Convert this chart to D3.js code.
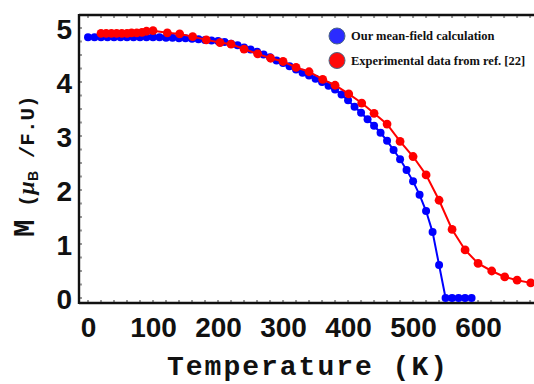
<!DOCTYPE html>
<html>
<head>
<meta charset="utf-8">
<script src="https://cdn.jsdelivr.net/npm/d3@7"></script>
<style>
  html, body { margin: 0; padding: 0; background: #fff; }
  svg { display: block; }
</style>
</head>
<body>
<svg id="chart" width="534" height="384"></svg>
<script>
// Mean-field magnetization (blue), temperatures in K and M in μB per formula unit
const calcT = [0,10,20,30,40,50,60,70,80,90,100,110,120,130,140,150,160,170,180,190,
  200,210,220,230,240,250,260,270,280,290,300,310,320,330,340,350,360,370,380,390,
  400,410,420,430,440,450,460,470,480,490,500,510,520,530,540,550,560,570,580,590];
const calcM = [4.83,4.83,4.83,4.83,4.83,4.83,4.83,4.83,4.83,4.83,4.83,4.83,4.82,4.82,4.81,4.81,4.80,4.79,4.78,4.77,
  4.76,4.74,4.71,4.68,4.64,4.60,4.56,4.51,4.46,4.40,4.35,4.29,4.23,4.17,4.12,4.06,4.00,3.93,3.86,3.77,
  3.66,3.54,3.43,3.31,3.19,3.06,2.91,2.74,2.57,2.37,2.16,1.91,1.61,1.22,0.61,0,0,0,0,0];

// Measured magnetization (red)
const expT = [20,28,36,44,52,60,67,75,83,90,100,122,141,161,182,203,220,240,261,281,
  300,320,340,361,380,401,421,440,460,480,500,520,540,560,580,600,621,641,660,681,700];
const expM = [4.90,4.90,4.90,4.90,4.90,4.90,4.91,4.91,4.92,4.94,4.95,4.91,4.89,4.84,4.78,4.73,4.70,4.61,4.52,4.44,
  4.38,4.27,4.19,4.05,3.94,3.78,3.61,3.42,3.22,2.90,2.62,2.28,1.81,1.27,0.89,0.64,0.50,0.39,0.33,0.28,0.25];

const xTicks = [0,100,200,300,400,500,600];
const yTicks = [0,1,2,3,4,5];
const legendLabels = ["Our mean-field calculation", "Experimental data from ref. [22]"];
const seriesColors = ["#0000ff", "#ff0000"];

const svg = d3.select("#chart");
const L = 79, R = 534, T = 15, B = 303;

const x = d3.scaleLinear().domain([-13.85, 686]).range([L, R]);
const y = d3.scaleLinear().domain([-0.0926, 5.2407]).range([B, T]);

svg.append("rect").attr("width", 534).attr("height", 384).attr("fill", "#fff");

svg.append("defs").append("clipPath").attr("id", "plot")
  .append("rect").attr("x", L).attr("y", T - 6).attr("width", R - L + 10).attr("height", B - T + 6);

// small gray minor ticks just inside the frame
const minorX = d3.range(0, 700, 20);
const minorY = d3.range(0, 5.25, 0.25);
const tickG = svg.append("g").attr("fill", "#9a9a9a");
tickG.selectAll(".mxb").data(minorX).join("rect")
  .attr("x", d => x(d) - 1).attr("y", B - 3).attr("width", 2).attr("height", 2);
tickG.selectAll(".mxt").data(minorX).join("rect")
  .attr("x", d => x(d) - 1).attr("y", T + 1).attr("width", 2).attr("height", 2);
tickG.selectAll(".my").data(minorY).join("rect")
  .attr("x", L + 1).attr("y", d => y(d) - 1).attr("width", 2).attr("height", 2);

// axes with bold tick labels
const xAxis = svg.append("g").attr("transform", `translate(0,${B})`)
  .call(d3.axisBottom(x).tickValues(xTicks).tickFormat(d3.format("d")).tickSize(0).tickPadding(14));
const yAxis = svg.append("g").attr("transform", `translate(${L},0)`)
  .call(d3.axisLeft(y).tickValues(yTicks).tickFormat(d3.format("d")).tickSize(0).tickPadding(7));
[xAxis, yAxis].forEach(g => {
  g.select(".domain").remove();
  g.selectAll("text")
    .attr("font-family", "'Liberation Sans', Arial, sans-serif")
    .attr("font-weight", "bold")
    .attr("font-size", 28)
    .attr("fill", "#111");
});
xAxis.selectAll("text").attr("dy", "0.71em");
yAxis.selectAll("text").attr("dy", "0.36em");

// frame: left, bottom, top
const frame = svg.append("g").attr("stroke", "#111").attr("stroke-width", 2.4).attr("fill", "none");
frame.append("line").attr("x1", L).attr("x2", L).attr("y1", T - 1).attr("y2", B + 1);
frame.append("line").attr("x1", L).attr("x2", R).attr("y1", B).attr("y2", B);
frame.append("line").attr("x1", L).attr("x2", R).attr("y1", T).attr("y2", T);

// series
const series = [
  { t: calcT, m: calcM, color: seriesColors[0], r: 4 },
  { t: expT, m: expM, color: seriesColors[1], r: 4.4 }
];
const plot = svg.append("g").attr("clip-path", "url(#plot)");
const line = d3.line().x(d => x(d[0])).y(d => y(d[1]));
series.forEach(s => {
  const pts = s.t.map((t, i) => [t, s.m[i]]);
  const g = plot.append("g");
  g.append("path").datum(pts).attr("d", line)
    .attr("fill", "none").attr("stroke", s.color).attr("stroke-width", 2);
  g.selectAll("circle").data(pts).join("circle")
    .attr("cx", d => x(d[0])).attr("cy", d => y(d[1])).attr("r", s.r)
    .attr("fill", s.color);
});

// legend
const leg = svg.append("g");
legendLabels.forEach((lab, i) => {
  const cy = 36 + i * 24.5;
  leg.append("circle").attr("cx", 337).attr("cy", cy).attr("r", 8)
    .attr("fill", i === 0 ? "#2b2bff" : "#ff0a0a")
    .attr("stroke", "#4a6585").attr("stroke-width", 1);
  leg.append("text").attr("x", 351).attr("y", cy + 4)
    .attr("font-family", "'Liberation Serif', 'Times New Roman', serif")
    .attr("font-weight", "bold").attr("font-size", 12.5).attr("fill", "#111")
    .text(lab);
});

// axis titles
svg.append("text").attr("x", 307).attr("y", 375)
  .attr("text-anchor", "middle")
  .attr("font-family", "'Liberation Mono', 'Courier New', monospace")
  .attr("font-weight", "bold").attr("font-size", 28).attr("fill", "#111")
  .attr("textLength", 280).attr("lengthAdjust", "spacing")
  .text("Temperature (K)");

const yt = svg.append("text")
  .attr("transform", "translate(34,237) rotate(-90)")
  .attr("font-family", "'Liberation Mono', 'Courier New', monospace")
  .attr("font-weight", "bold").attr("fill", "#111");
yt.append("tspan").attr("font-size", 29).text("M");
yt.append("tspan").attr("font-size", 21).text(" (");
yt.append("tspan").attr("font-size", 24).attr("font-style", "italic")
  .attr("font-family", "'Liberation Serif', serif").text("μ");
yt.append("tspan").attr("font-size", 14).attr("dy", 4)
  .attr("font-family", "'Liberation Sans', sans-serif").text("B");
yt.append("tspan").attr("font-size", 21).attr("dy", -4).text(" /F.U)");
</script>
</body>
</html>
